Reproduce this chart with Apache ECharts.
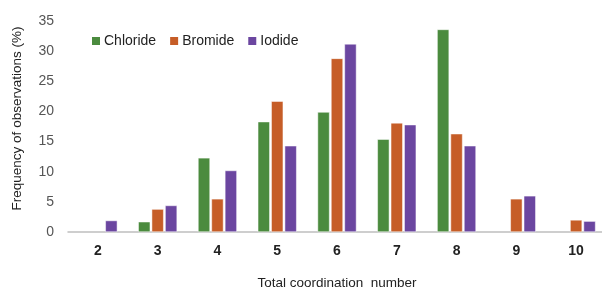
<!DOCTYPE html>
<html>
<head>
<meta charset="utf-8">
<script src="https://cdn.jsdelivr.net/npm/echarts@6/dist/echarts.min.js"></script>
<style>
  html, body { margin: 0; padding: 0; background: #fff; }
  #chart { width: 602px; height: 289px; }
</style>
</head>
<body>
<div id="chart"></div>
<script>
// coordination numbers on the x axis
var categories = ['2', '3', '4', '5', '6', '7', '8', '9', '10'];
// frequency of observations (%)
var chloride = [null, 1.7, 12.3, 18.3, 19.9, 15.4, 33.6, null, null];
var bromide = [null, 3.8, 5.5, 21.7, 28.8, 18.1, 16.3, 5.5, 2.0];
var iodide = [1.9, 4.4, 10.2, 14.3, 31.2, 17.8, 14.3, 6.0, 1.8];

var chart = echarts.init(document.getElementById('chart'));

var font = '"Liberation Sans", Arial, sans-serif';

var barStyle = function(color) {
    return { color: color, borderColor: '#ffffff', borderWidth: 0.5 };
};

chart.setOption({
    animation: false,
    textStyle: { fontFamily: font },
    legend: {
        left: 85,
        top: 29,
        itemWidth: 10,
        itemHeight: 10,
        itemGap: 12,
        icon: 'rect',
        textStyle: { fontFamily: font, fontSize: 14, color: '#222', padding: [0, 0, 0, -2] },
        data: ['Chloride', 'Bromide', 'Iodide']
    },
    grid: { left: 68, top: 21, width: 538, height: 211, outerBoundsMode: 'none' },
    xAxis: {
        type: 'category',
        data: categories,
        name: 'Total coordination  number',
        nameLocation: 'middle',
        nameGap: 44,
        nameTextStyle: { fontFamily: font, fontSize: 13.5, color: '#222', whiteSpace: 'pre' },
        axisLine: { lineStyle: { color: '#bfbfbf', width: 1.5 } },
        axisTick: { show: false },
        axisLabel: { fontFamily: font, fontSize: 14, fontWeight: 'bold', color: '#222', margin: 12 }
    },
    yAxis: {
        type: 'value',
        min: 0,
        max: 35,
        interval: 5,
        name: 'Frequency of observations (%)',
        nameLocation: 'middle',
        nameGap: 44,
        nameTextStyle: { fontFamily: font, fontSize: 13.5, color: '#222', padding: [0, 0, 0, 16] },
        axisLine: { show: false },
        axisTick: { show: false },
        splitLine: { show: false },
        axisLabel: { fontFamily: font, fontSize: 14, color: '#555', margin: 14 }
    },
    series: [
        { name: 'Chloride', type: 'bar', data: chloride, barWidth: 12, barGap: '12%', itemStyle: barStyle('#4b8b3e') },
        { name: 'Bromide', type: 'bar', data: bromide, barWidth: 12, barGap: '12%', itemStyle: barStyle('#c65d27') },
        { name: 'Iodide', type: 'bar', data: iodide, barWidth: 12, barGap: '12%', itemStyle: barStyle('#6b46a0') }
    ]
});
</script>
</body>
</html>
